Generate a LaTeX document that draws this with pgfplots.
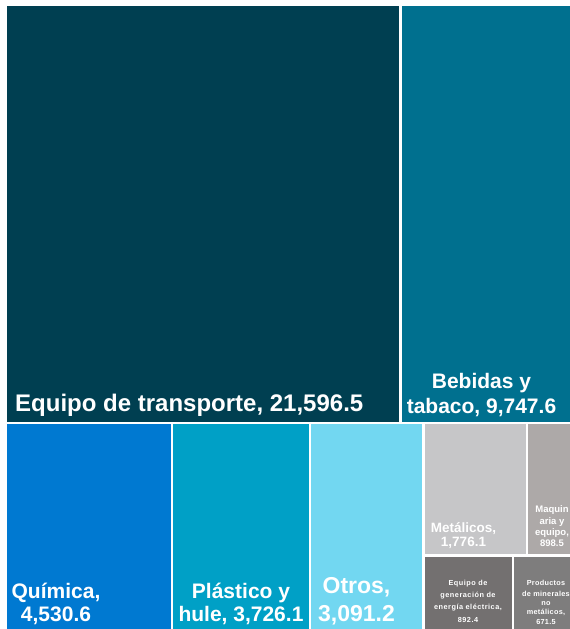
\documentclass[border=0pt]{standalone}
\usepackage{pgfplots}
\pgfplotsset{compat=1.18}
\usepackage{fontspec}
\setmainfont{Liberation Sans}
\newfontfamily\spacedA[LetterSpace=7]{Liberation Sans}
\newfontfamily\spacedB[LetterSpace=4]{Liberation Sans}
\definecolor{cTrans}{HTML}{003F51}
\definecolor{cBeb}{HTML}{00708F}
\definecolor{cQui}{HTML}{0079D1}
\definecolor{cPla}{HTML}{00A0C6}
\definecolor{cOtr}{HTML}{72D7F1}
\definecolor{cMet}{HTML}{C6C6C8}
\definecolor{cMaq}{HTML}{ADA9A8}
\definecolor{cGen}{HTML}{737070}
\definecolor{cPro}{HTML}{7E7D7D}
% Values (millions of USD): Equipo de transporte 21596.5, Bebidas y tabaco 9747.6,
% Quimica 4530.6, Plastico y hule 3726.1, Otros 3091.2, Metalicos 1776.1,
% Maquinaria y equipo 898.5, Equipo de generacion 892.4, Productos minerales no metalicos 671.5
\newcommand{\lab}[4]{\node[anchor=base,text=white,inner sep=0pt,font=#3] at (axis cs:#1,#2) {#4};}
\begin{document}
\begin{tikzpicture}
\begin{axis}[
  width=570bp, height=629bp, scale only axis,
  xmin=0, xmax=570, ymin=0, ymax=629, y dir=reverse,
  hide axis, clip=true,
]
% treemap tiles (squarified layout, areas proportional to the values)
\addplot[fill=cTrans, draw=none] coordinates {(7,6) (399,6) (399,421.8) (7,421.8)} -- cycle;
\addplot[fill=cBeb, draw=none] coordinates {(401.6,6) (576,6) (576,421.8) (401.6,421.8)} -- cycle;
\addplot[fill=cQui, draw=none] coordinates {(7,424.4) (171,424.4) (171,632) (7,632)} -- cycle;
\addplot[fill=cPla, draw=none] coordinates {(173.4,424.4) (309,424.4) (309,632) (173.4,632)} -- cycle;
\addplot[fill=cOtr, draw=none] coordinates {(311.4,424.4) (422.4,424.4) (422.4,632) (311.4,632)} -- cycle;
\addplot[fill=cMet, draw=none] coordinates {(424.6,424.4) (526,424.4) (526,554.2) (424.6,554.2)} -- cycle;
\addplot[fill=cMaq, draw=none] coordinates {(528.3,424.4) (576,424.4) (576,554.2) (528.3,554.2)} -- cycle;
\addplot[fill=cGen, draw=none] coordinates {(424.6,556.6) (511.7,556.6) (511.7,632) (424.6,632)} -- cycle;
\addplot[fill=cPro, draw=none] coordinates {(514.2,556.6) (576,556.6) (576,632) (514.2,632)} -- cycle;
% labels
\node[anchor=base west,text=white,inner sep=0pt,font=\fontsize{24bp}{28bp}\selectfont\bfseries] at (axis cs:15,411) {Equipo de transporte, 21,596.5};
\lab{481.5}{388.5}{\fontsize{21bp}{25bp}\selectfont\bfseries}{Bebidas y}
\lab{481.5}{413.5}{\fontsize{21bp}{25bp}\selectfont\bfseries}{tabaco, 9,747.6}
\lab{56}{598}{\fontsize{21bp}{25bp}\selectfont\bfseries}{Química,}
\lab{56}{621}{\fontsize{21bp}{25bp}\selectfont\bfseries}{4,530.6}
\lab{241}{598}{\fontsize{21bp}{25bp}\selectfont\bfseries}{Plástico y}
\lab{241}{621}{\fontsize{21bp}{25bp}\selectfont\bfseries}{hule, 3,726.1}
\lab{356.5}{593.5}{\fontsize{23bp}{27bp}\selectfont\bfseries}{Otros,}
\lab{356.5}{621.5}{\fontsize{23bp}{27bp}\selectfont\bfseries}{3,091.2}
\lab{463.5}{532.3}{\fontsize{13.5bp}{16bp}\selectfont\bfseries}{Metálicos,}
\lab{463.5}{546.5}{\fontsize{13.5bp}{16bp}\selectfont\bfseries}{1,776.1}
\lab{552}{512.7}{\fontsize{9.5bp}{11bp}\selectfont\bfseries}{Maquin}
\lab{552}{524.3}{\fontsize{9.5bp}{11bp}\selectfont\bfseries}{aria y}
\lab{552}{535.7}{\fontsize{9.5bp}{11bp}\selectfont\bfseries}{equipo,}
\lab{552}{546.9}{\fontsize{9.5bp}{11bp}\selectfont\bfseries}{898.5}
\lab{468}{585.7}{\fontsize{7.3bp}{9bp}\spacedA\bfseries}{Equipo de}
\lab{468}{597.5}{\fontsize{7.3bp}{9bp}\spacedA\bfseries}{generación de}
\lab{468}{609.5}{\fontsize{7.3bp}{9bp}\spacedA\bfseries}{energía eléctrica,}
\lab{468}{622}{\fontsize{7.3bp}{9bp}\spacedA\bfseries}{892.4}
\lab{546}{585.7}{\fontsize{7.3bp}{9bp}\spacedB\bfseries}{Productos}
\lab{546}{596.7}{\fontsize{7.3bp}{9bp}\spacedB\bfseries}{de minerales}
\lab{546}{605.2}{\fontsize{7.3bp}{9bp}\spacedB\bfseries}{no}
\lab{546}{614.4}{\fontsize{7.3bp}{9bp}\spacedB\bfseries}{metálicos,}
\lab{546}{624}{\fontsize{7.3bp}{9bp}\spacedB\bfseries}{671.5}
\end{axis}
\pgfresetboundingbox
\path (current axis.south west) rectangle (current axis.north east);
\end{tikzpicture}
\end{document}
